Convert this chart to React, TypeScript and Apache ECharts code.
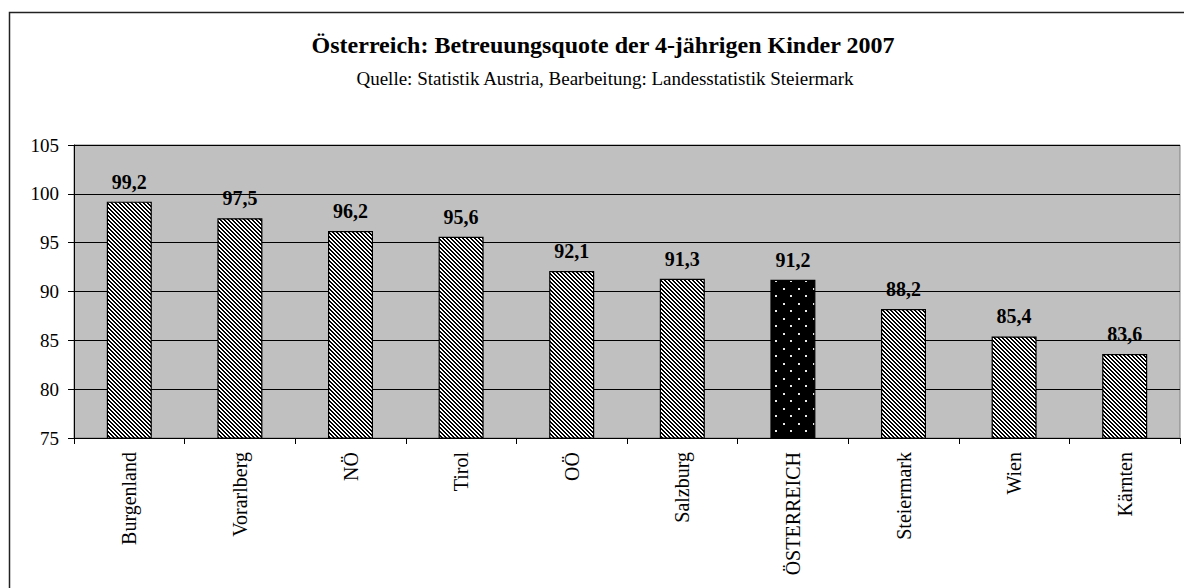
import React, { useEffect, useRef } from "react";
import * as echarts from "echarts";

const categories = ["Burgenland", "Vorarlberg", "NÖ", "Tirol", "OÖ", "Salzburg", "ÖSTERREICH", "Steiermark", "Wien", "Kärnten"];
const values = [99.2, 97.5, 96.2, 95.6, 92.1, 91.3, 91.2, 88.2, 85.4, 83.6];
const highlight = "ÖSTERREICH";
const titleText = "Österreich: Betreuungsquote der 4-jährigen Kinder 2007";
const subtitleText = "Quelle: Statistik Austria, Bearbeitung: Landesstatistik Steiermark";

const FONT = "'Liberation Serif', 'Times New Roman', serif";

function hatchPattern(): string {
  const n = 4;
  const c = document.createElement("canvas");
  c.width = n;
  c.height = n;
  const ctx = c.getContext("2d")!;
  ctx.fillStyle = "#ffffff";
  ctx.fillRect(0, 0, n, n);
  ctx.fillStyle = "#000000";
  for (let i = 0; i < n; i++) {
    ctx.fillRect(i, i, 1, 1);
    ctx.fillRect((i + 1) % n, i, 1, 1);
  }
  return c.toDataURL();
}

function dotPattern(): string {
  const c = document.createElement("canvas");
  c.width = 15;
  c.height = 15;
  const ctx = c.getContext("2d")!;
  ctx.fillStyle = "#000000";
  ctx.fillRect(0, 0, 15, 15);
  ctx.fillStyle = "#e8e8e8";
  ctx.fillRect(3, 3, 2, 2);
  ctx.fillRect(10, 10, 2, 2);
  return c.toDataURL();
}

export default function App() {
  const ref = useRef<HTMLDivElement>(null);
  useEffect(() => {
    document.body.style.margin = "0";
    const chart = echarts.init(ref.current!, null, { renderer: "svg" });
    const hatch = hatchPattern();
    const dots = dotPattern();
    chart.setOption({
      animation: false,
      backgroundColor: "#ffffff",
      graphic: [
        {
          type: "rect",
          shape: { x: 9.5, y: 12.5, width: 1200, height: 700 },
          style: { fill: "none", stroke: "#222", lineWidth: 1.5 },
          z: 0,
        },
        {
          type: "text",
          x: 603,
          y: 57,
          style: {
            text: titleText,
            font: `bold 24px ${FONT}`,
            fill: "#000",
            textAlign: "center",
            textVerticalAlign: "bottom",
          },
        },
        {
          type: "text",
          x: 605,
          y: 88,
          style: {
            text: subtitleText,
            font: `19px ${FONT}`,
            fill: "#000",
            textAlign: "center",
            textVerticalAlign: "bottom",
          },
        },
      ],
      grid: {
        left: 74,
        right: 4,
        top: 145,
        bottom: 150,
        show: true,
        backgroundColor: "#c0c0c0",
        borderColor: "#808080",
        borderWidth: 1,
      },
      xAxis: {
        type: "category",
        data: categories,
        axisLine: { lineStyle: { color: "#000", width: 1 } },
        axisTick: { show: true, length: 6, lineStyle: { color: "#000" }, alignWithLabel: false },
        axisLabel: {
          rotate: 90,
          margin: 14,
          color: "#000",
          fontFamily: FONT,
          fontSize: 20,
        },
      },
      yAxis: {
        type: "value",
        min: 75,
        max: 105,
        interval: 5,
        axisLine: { show: true, lineStyle: { color: "#000", width: 1 } },
        axisTick: { show: true, length: 6, lineStyle: { color: "#000" } },
        axisLabel: { color: "#000", fontFamily: FONT, fontSize: 19, margin: 15 },
        splitLine: { show: true, lineStyle: { color: "#000", width: 1 } },
      },
      series: [
        {
          type: "bar",
          barWidth: 45,
          data: values.map((v, i) => ({
            value: v,
            itemStyle: {
              color: {
                image: categories[i] === highlight ? dots : hatch,
                repeat: "repeat",
              },
              borderColor: "#000",
              borderWidth: 1.2,
            },
          })),
          label: {
            show: true,
            position: "top",
            distance: 10,
            color: "#000",
            fontFamily: FONT,
            fontWeight: "bold",
            fontSize: 20,
            formatter: (p: any) => p.value.toFixed(1).replace(".", ","),
          },
        },
      ],
    });
    return () => chart.dispose();
  }, []);
  return <div ref={ref} style={{ width: 1184, height: 588 }} />;
}
